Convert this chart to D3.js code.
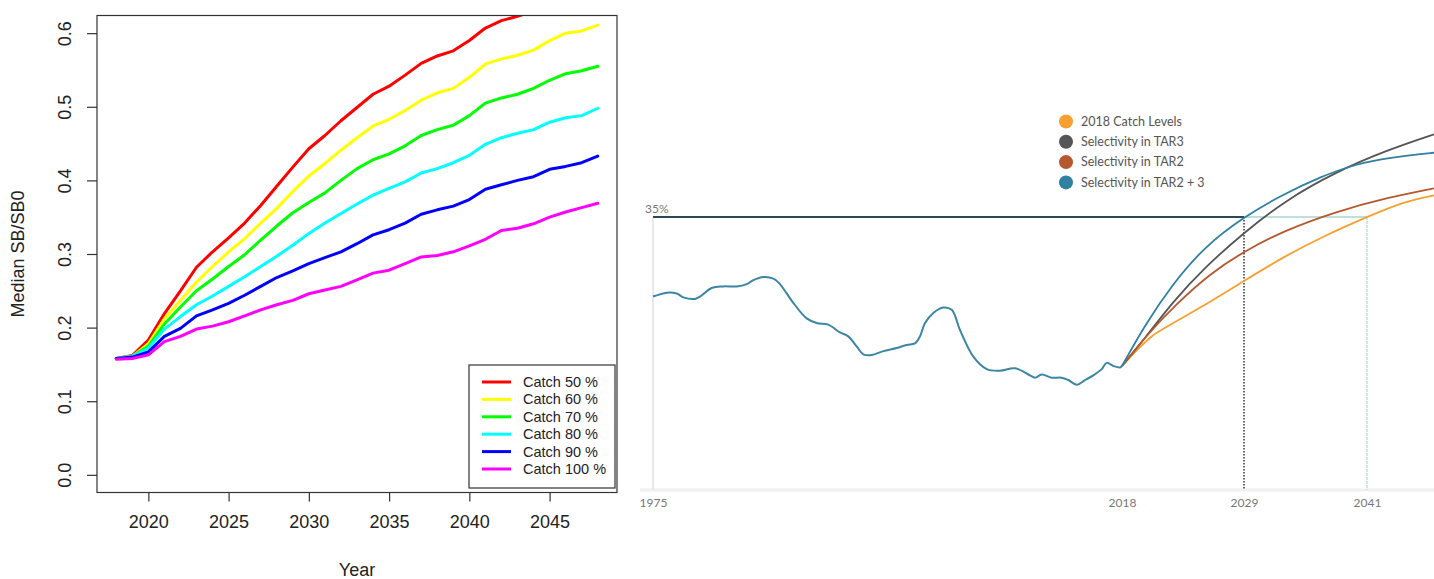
<!DOCTYPE html>
<html>
<head>
<meta charset="utf-8">
<script src="https://cdn.jsdelivr.net/npm/d3@7"></script>
<style>
  html, body { margin: 0; padding: 0; background: #fff; }
  svg { display: block; }
</style>
</head>
<body>
<svg id="chart" width="1434" height="579"></svg>
<script>
// ---------------- LEFT PANEL DATA ----------------
const years = d3.range(2018, 2049);
const seriesNames = ["Catch 50 %", "Catch 60 %", "Catch 70 %", "Catch 80 %", "Catch 90 %", "Catch 100 %"];
const seriesColors = ["#ff0000", "#ffff00", "#00ff00", "#00ffff", "#0000ff", "#ff00ff"];
const catch50 = [0.158,0.162,0.183,0.219,0.250,0.282,0.303,0.322,0.342,0.366,0.392,0.418,0.443,0.461,0.481,0.499,0.517,0.528,0.543,0.559,0.569,0.576,0.590,0.607,0.617,0.623,0.630,0.640,0.648,0.655,0.662];
const catch60 = [0.158,0.161,0.178,0.212,0.237,0.262,0.283,0.303,0.321,0.342,0.362,0.385,0.406,0.423,0.441,0.458,0.474,0.483,0.495,0.509,0.519,0.525,0.540,0.558,0.565,0.570,0.577,0.590,0.600,0.603,0.611];
const catch70 = [0.158,0.161,0.175,0.205,0.228,0.250,0.266,0.283,0.299,0.319,0.338,0.356,0.370,0.383,0.400,0.416,0.428,0.436,0.447,0.461,0.469,0.475,0.488,0.505,0.512,0.517,0.525,0.536,0.545,0.549,0.555];
const catch80 = [0.158,0.161,0.172,0.198,0.215,0.231,0.243,0.256,0.269,0.283,0.297,0.312,0.328,0.342,0.355,0.368,0.380,0.389,0.398,0.410,0.416,0.424,0.434,0.449,0.458,0.464,0.469,0.479,0.485,0.488,0.498];
const catch90 = [0.158,0.160,0.167,0.188,0.199,0.216,0.224,0.233,0.244,0.256,0.268,0.277,0.287,0.295,0.303,0.314,0.326,0.333,0.342,0.354,0.360,0.365,0.374,0.388,0.394,0.400,0.405,0.415,0.419,0.424,0.433];
const catch100 = [0.157,0.158,0.163,0.181,0.188,0.198,0.202,0.208,0.216,0.224,0.231,0.237,0.246,0.251,0.256,0.265,0.274,0.278,0.287,0.296,0.298,0.303,0.311,0.320,0.332,0.335,0.341,0.350,0.357,0.363,0.369];
const leftXTicks = [2020, 2025, 2030, 2035, 2040, 2045];
const leftYTicks = [0.0, 0.1, 0.2, 0.3, 0.4, 0.5, 0.6];

// ---------------- RIGHT PANEL DATA ----------------
const histYears = [1975.0,1976.26,1977.17,1977.78,1978.85,1979.31,1980.38,1981.45,1982.67,1983.59,1984.2,1985.11,1986.03,1986.64,1987.26,1987.86,1989.09,1990.01,1991.07,1992.14,1992.9,1993.68,1994.28,1995.05,1996.11,1997.34,1998.26,1999.02,1999.48,1999.94,2000.7,2001.62,2002.39,2003.15,2004.37,2005.6,2006.81,2008.19,2009.56,2010.02,2010.64,2011.55,2012.47,2013.08,2013.85,2014.61,2015.37,2016.14,2016.6,2017.2,2017.82,2018.0];
const histValues = [24.8,25.3,25.2,24.7,24.5,24.8,25.9,26.1,26.1,26.4,26.9,27.3,27.1,26.4,25.2,24.0,22.0,21.4,21.2,20.2,19.7,18.4,17.4,17.3,17.8,18.2,18.6,18.8,19.7,21.4,22.7,23.4,23.1,20.5,17.1,15.5,15.3,15.6,14.7,14.4,14.8,14.4,14.4,14.1,13.5,14.1,14.7,15.5,16.3,15.9,15.7,15.9];

const projNames = ["2018 Catch Levels", "Selectivity in TAR3", "Selectivity in TAR2", "Selectivity in TAR2 + 3"];
const projColors = ["#f7a031", "#555555", "#b5582e", "#2f80a1"];
const catchLevelYears = [2018, 2019.5, 2020.8, 2021.5, 2025.0, 2029.0, 2033.0, 2037.0, 2041.0, 2044.6, 2048];
const catchLevelValues = [15.9, 18.2, 19.9, 20.5, 23.3, 26.8, 30.0, 32.7, 35.0, 37.0, 37.9];
const tar3Years = [2018, 2020.0, 2022.5, 2025.5, 2029.0, 2033.0, 2038.0, 2043.0, 2048];
const tar3Values = [15.9, 19.3, 24.0, 28.6, 33.0, 37.1, 40.8, 43.6, 45.8];
const tar2Years = [2018, 2020.0, 2023.0, 2026.0, 2029.0, 2033.0, 2038.0, 2043.0, 2048];
const tar2Values = [15.9, 19.5, 24.0, 27.8, 30.6, 33.3, 35.7, 37.5, 38.8];
const tar23Years = [2018, 2020.0, 2022.5, 2025.5, 2029.0, 2032.5, 2036.5, 2040.0, 2043.0, 2048];
const tar23Values = [15.9, 21.0, 26.3, 31.3, 35.0, 37.7, 40.2, 41.8, 42.6, 43.3];
const targetLevel = 35;
const rightXTicks = [1975, 2018, 2029, 2041];

// ---------------- DRAW ----------------
const svg = d3.select("#chart");
const sans = "'Liberation Sans', Arial, sans-serif";

// ===== Left panel =====
const L = { left: 97, right: 617, top: 15.5, bottom: 492.5 };
const xL = d3.scaleLinear().domain([2016.8, 2049.2]).range([L.left, L.right]);
const yL = d3.scaleLinear().domain([-0.024, 0.624]).range([L.bottom, L.top]);

svg.append("clipPath").attr("id", "clipL")
  .append("rect").attr("x", L.left).attr("y", L.top)
  .attr("width", L.right - L.left).attr("height", L.bottom - L.top);

const leftSeries = [catch50, catch60, catch70, catch80, catch90, catch100];
const lineL = d3.line().x((d, i) => xL(years[i])).y(d => yL(d));
const gLines = svg.append("g").attr("clip-path", "url(#clipL)");
leftSeries.forEach((s, k) => {
  gLines.append("path").datum(s)
    .attr("d", lineL)
    .attr("fill", "none")
    .attr("stroke", seriesColors[k])
    .attr("stroke-width", 3)
    .attr("stroke-linejoin", "round")
    .attr("stroke-linecap", "round");
});

svg.append("rect")
  .attr("x", L.left).attr("y", L.top)
  .attr("width", L.right - L.left).attr("height", L.bottom - L.top)
  .attr("fill", "none").attr("stroke", "#333").attr("stroke-width", 1.2);

const xAxisL = svg.append("g").attr("transform", `translate(0,${L.bottom})`)
  .call(d3.axisBottom(xL).tickValues(leftXTicks).tickSize(9).tickPadding(14).tickFormat(d3.format("d")));
xAxisL.select(".domain").remove();
xAxisL.selectAll("line").attr("stroke", "#333").attr("stroke-width", 1.2);
xAxisL.selectAll("text").attr("font-family", sans).attr("font-size", 18).attr("fill", "#222");

const yAxisL = svg.append("g").attr("transform", `translate(${L.left},0)`)
  .call(d3.axisLeft(yL).tickValues(leftYTicks).tickSize(10).tickFormat(d3.format(".1f")));
yAxisL.select(".domain").remove();
yAxisL.selectAll("line").attr("stroke", "#333").attr("stroke-width", 1.2);
yAxisL.selectAll("text")
  .attr("font-family", sans).attr("font-size", 18).attr("fill", "#222")
  .attr("x", null).attr("dy", null)
  .attr("text-anchor", "middle")
  .attr("transform", "translate(-26,0) rotate(-90)");

svg.append("text")
  .attr("transform", `translate(24,${(L.top + L.bottom) / 2}) rotate(-90)`)
  .attr("text-anchor", "middle")
  .attr("font-family", sans).attr("font-size", 18).attr("fill", "#222")
  .text("Median SB/SB0");
svg.append("text")
  .attr("x", (L.left + L.right) / 2).attr("y", 576)
  .attr("text-anchor", "middle")
  .attr("font-family", sans).attr("font-size", 18).attr("fill", "#222")
  .text("Year");

// Legend (left)
const lg = svg.append("g");
lg.append("rect").attr("x", 469).attr("y", 365).attr("width", 146).attr("height", 123)
  .attr("fill", "#fff").attr("stroke", "#333").attr("stroke-width", 1.2);
seriesNames.forEach((n, k) => {
  const yy = 382 + k * 17.4;
  lg.append("line").attr("x1", 482).attr("x2", 511).attr("y1", yy).attr("y2", yy)
    .attr("stroke", seriesColors[k]).attr("stroke-width", 3);
  lg.append("text").attr("x", 523).attr("y", yy).attr("dy", "0.35em")
    .attr("font-family", sans).attr("font-size", 14.5).attr("fill", "#222").text(n);
});

// ===== Right panel =====
const rFont = "Lato, 'Open Sans', sans-serif";
const xR = d3.scaleLinear().domain(rightXTicks).range([653, 1122, 1244, 1367]);
const yR = d3.scaleLinear().domain([0, targetLevel]).range([490, 217]);

svg.append("line").attr("x1", 640).attr("x2", 1434).attr("y1", yR(0)).attr("y2", yR(0))
  .attr("stroke", "#f0f0f0").attr("stroke-width", 3);

svg.append("line").attr("x1", xR(1975)).attr("x2", xR(1975))
  .attr("y1", yR(targetLevel)).attr("y2", yR(0))
  .attr("stroke", "#e2e2e2").attr("stroke-width", 1.5);
svg.append("line").attr("x1", xR(2029)).attr("x2", xR(2029))
  .attr("y1", yR(targetLevel)).attr("y2", yR(0))
  .attr("stroke", "#333").attr("stroke-width", 1.5).attr("stroke-dasharray", "1.5,1.5");
svg.append("line").attr("x1", xR(2041)).attr("x2", xR(2041))
  .attr("y1", yR(targetLevel)).attr("y2", yR(0))
  .attr("stroke", "#b6dcd8").attr("stroke-width", 1.3).attr("stroke-dasharray", "3,1");
svg.append("line").attr("x1", xR(1975)).attr("x2", xR(2029))
  .attr("y1", yR(targetLevel)).attr("y2", yR(targetLevel))
  .attr("stroke", "#2c4858").attr("stroke-width", 2);
svg.append("line").attr("x1", xR(2029)).attr("x2", xR(2041))
  .attr("y1", yR(targetLevel)).attr("y2", yR(targetLevel))
  .attr("stroke", "#a9d6d1").attr("stroke-width", 1.3);
svg.append("text").attr("x", 645).attr("y", yR(targetLevel) - 4)
  .attr("font-family", rFont).attr("font-size", 12).attr("fill", "#777")
  .text(targetLevel + "%");

const lineR = d3.line().curve(d3.curveCatmullRom.alpha(0.5));
svg.append("path")
  .datum(histYears.map((y, i) => [xR(y), yR(histValues[i])]))
  .attr("d", lineR)
  .attr("fill", "none").attr("stroke", "#3b87a3").attr("stroke-width", 2);

const projData = [
  [catchLevelYears, catchLevelValues],
  [tar3Years, tar3Values],
  [tar2Years, tar2Values],
  [tar23Years, tar23Values]
];
const lineP = d3.line().curve(d3.curveBasis);
projData.forEach(([ys, vs], k) => {
  svg.append("path")
    .datum(ys.map((y, i) => [xR(y), yR(vs[i])]))
    .attr("d", lineP)
    .attr("fill", "none").attr("stroke", projColors[k]).attr("stroke-width", 1.8);
});

const xAxisR = svg.append("g").attr("transform", `translate(0,${yR(0)})`)
  .call(d3.axisBottom(xR).tickValues(rightXTicks).tickSize(0).tickPadding(8).tickFormat(d3.format("d")));
xAxisR.select(".domain").remove();
xAxisR.selectAll("text").attr("font-family", rFont).attr("font-size", 12).attr("fill", "#777");

projNames.forEach((n, k) => {
  const yy = 121.5 + k * 20.3;
  svg.append("circle").attr("cx", 1066).attr("cy", yy).attr("r", 7).attr("fill", projColors[k]);
  svg.append("text").attr("x", 1081).attr("y", yy).attr("dy", "0.35em")
    .attr("font-family", rFont).attr("font-size", 12.5).attr("fill", "#555").text(n);
});
</script>
</body>
</html>
